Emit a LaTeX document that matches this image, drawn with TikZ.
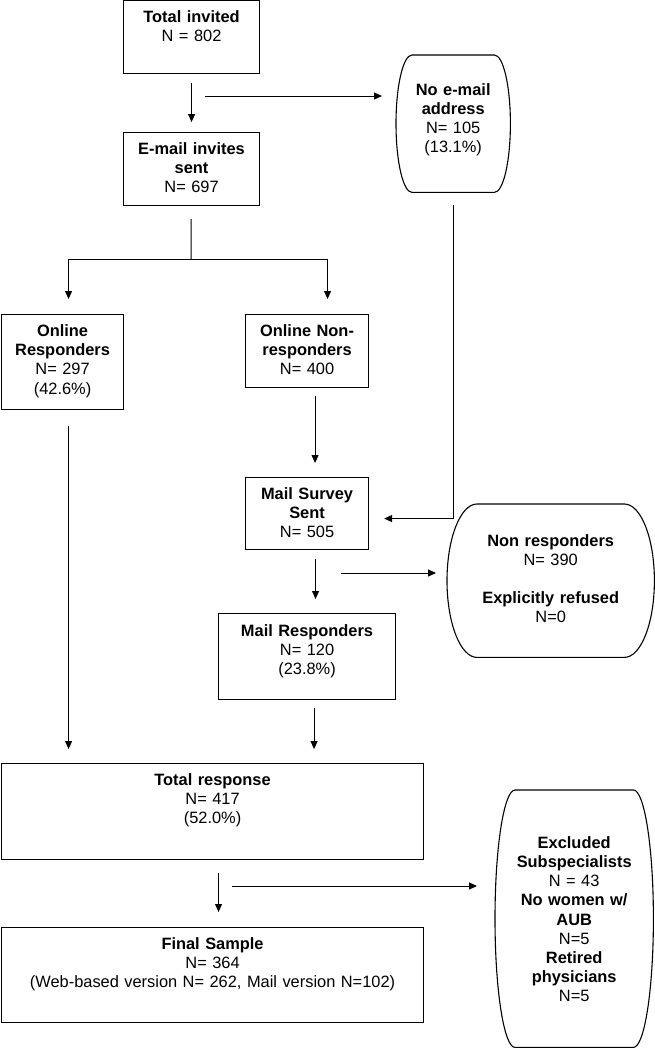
\documentclass[tikz,border=0pt]{standalone}
\usepackage{fontspec}
\setmainfont{Liberation Sans}
\usetikzlibrary{calc}
\usetikzlibrary{arrows.meta}

\begin{document}
\begin{tikzpicture}[x=1pt, y=-1pt,
  box/.style={draw, line width=1.1pt, inner sep=0pt, anchor=north west, align=center,
    text height=22pt, font=\fontsize{16.4}{19.2}\selectfont},
  stad/.style={inner sep=0pt, anchor=north west, align=center,
    font=\fontsize{16.4}{19.2}\selectfont},
  arr/.style={-{Triangle[length=8pt,width=7pt]}, line width=1pt}]
\useasboundingbox (0,0) rectangle (655,1050);

\node[box, text width=136pt, text depth=51pt] (total) at (123,0) {\textbf{Total invited}\\N = 802};
\node[box, text width=136pt, text depth=51pt] (email) at (123,132) {\textbf{E-mail invites}\\\textbf{sent}\\N= 697};
\node[stad, text width=114pt, text height=40pt, text depth=97pt] (noemail) at (396,55) {\textbf{No e-mail}\\\textbf{address}\\N= 105\\(13.1\%)};
\node[box, text width=122pt, text depth=73pt] (onresp) at (1,314) {\textbf{Online}\\\textbf{Responders}\\N= 297\\(42.6\%)};
\node[box, text width=123pt, text depth=51pt] (onnon) at (245,314) {\textbf{Online Non-}\\\textbf{responders}\\N= 400};
\node[box, text width=123pt, text depth=50pt] (survey) at (245,477) {\textbf{Mail Survey}\\\textbf{Sent}\\N= 505};
\node[stad, text width=207pt, text height=42pt, text depth=111pt] (nonresp) at (447,504) {\textbf{Non responders}\\N= 390\\[19pt]\textbf{Explicitly refused}\\N=0};
\node[box, text width=177pt, text height=23pt, text depth=63pt] (mailresp) at (218,613) {\textbf{Mail Responders}\\N= 120\\(23.8\%)};
\node[box, text width=422pt, text depth=74pt] (totalresp) at (1,763) {\textbf{Total response}\\N= 417\\(52.0\%)};
\node[box, text width=422pt, text depth=73pt] (final) at (1,927) {\textbf{Final Sample}\\N= 364\\(Web-based version N= 262, Mail version N=102)};
\node[stad, text width=158pt, text height=58pt, text depth=199pt] (excl) at (495,790) {\textbf{Excluded}\\\textbf{Subspecialists}\\N = 43\\\textbf{No women w/}\\\textbf{AUB}\\N=5\\\textbf{Retired}\\\textbf{physicians}\\N=5};

\foreach \nm/\r in {noemail/16,nonresp/30,excl/20}
  \draw[line width=1.1pt] let \p1=(\nm.north east), \p2=(\nm.south west), \n1={(\y1-\y2)/2} in
    (\x2+\r pt,\y1) -- (\x1-\r pt,\y1) arc[start angle=90, end angle=-90, x radius=\r pt, y radius=\n1]
    -- (\x2+\r pt,\y2) arc[start angle=270, end angle=90, x radius=\r pt, y radius=\n1] -- cycle;

\coordinate (s1) at (205,96);
\coordinate (fork) at (191,259);
\coordinate (s2) at (341,573);
\coordinate (s3) at (232,886);

\draw[arr, shorten <=9pt, shorten >=10pt] (total) -- (email);
\draw[arr, shorten >=14pt] (s1) -- (s1 -| noemail.west);
\draw[line width=1pt, shorten <=13pt] (email) -- (fork);
\draw[arr, shorten >=15pt] (fork) -| ([xshift=6pt]onresp.north);
\draw[arr, shorten >=15pt] (fork) -| ([xshift=20.5pt]onnon.north);
\draw[arr, shorten <=8pt, shorten >=14pt] ([xshift=8pt]onnon.south) -- ([xshift=8pt]survey.north);
\draw[arr, shorten <=13pt, shorten >=15pt] (noemail.south) |- ([yshift=-5pt]survey.east);
\draw[arr, shorten <=9pt, shorten >=14pt] ([xshift=8.5pt]survey.south) -- ([xshift=8.5pt]mailresp.north);
\draw[arr, shorten >=11pt] (s2) -- (s2 -| nonresp.west);
\draw[arr, shorten <=16pt, shorten >=14pt] ([xshift=6pt]onresp.south) -- ([xshift=6pt]onresp.south |- totalresp.north);
\draw[arr, shorten <=8pt, shorten >=14pt] ([xshift=7pt]mailresp.south) -- ([xshift=7pt]mailresp.south |- totalresp.north);
\draw[arr, shorten <=13pt, shorten >=15pt] ([xshift=6pt]totalresp.south) -- ([xshift=6pt]final.north);
\draw[arr, shorten >=18pt] (s3) -- (s3 -| excl.west);
\end{tikzpicture}
\end{document}
